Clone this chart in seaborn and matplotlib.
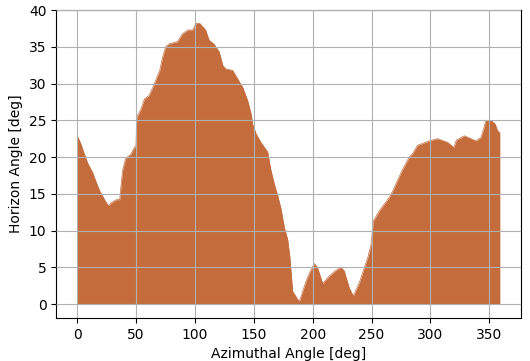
import pandas as pd
import matplotlib
matplotlib.use("Agg")
import matplotlib.pyplot as plt
import seaborn as sns

azimuth = [0, 3, 6, 9, 13, 16, 19, 21.5, 24.5, 26.5, 29, 33, 36, 37, 38.5, 41,
           45.5, 48.5, 49.8, 50.5, 54, 57, 61, 65, 70, 72.5, 75, 78, 85, 89.5,
           94, 98, 101, 104, 109, 112, 116, 120.6, 123.5, 126, 132, 136, 140.5,
           144.7, 147.6, 149, 151.8, 156, 161.7, 164.5, 167.4, 170.2, 173,
           175.9, 178.7, 180.5, 181.5, 183, 188.6, 191, 194.3, 198, 201.4, 204,
           208.4, 214, 219.8, 224, 226.8, 231, 234.5, 239.6, 246.7, 249.5,
           251.5, 256.6, 265, 268, 276, 282, 285, 289, 299, 306, 314.6, 320,
           322, 328.8, 338.7, 343, 345.5, 347, 351.4, 355, 357, 359]
horizon = [22.9, 21.8, 20.4, 19.1, 17.9, 16.6, 15.4, 14.7, 13.8, 13.4, 13.8,
           14.2, 14.2, 15.9, 18.2, 19.8, 20.4, 21.3, 21.5, 25.4, 26.5, 27.9,
           28.4, 29.8, 31.8, 33.6, 35.0, 35.4, 35.7, 36.8, 37.3, 37.3, 38.2,
           38.2, 37.3, 35.9, 35.4, 34.3, 32.5, 32.0, 31.8, 30.7, 29.5, 27.7,
           25.9, 24.5, 23.2, 22.0, 20.7, 18.2, 16.3, 14.8, 13.0, 10.4, 8.8,
           6.5, 4.5, 1.7, 0.3, 1.5, 3.1, 4.5, 5.5, 5.0, 2.8, 3.8, 4.6, 5.0,
           4.5, 2.2, 1.1, 2.9, 6.3, 8.0, 11.3, 12.7, 14.5, 15.4, 18.2, 20.0,
           20.5, 21.6, 22.2, 22.5, 22.0, 21.3, 22.3, 22.9, 22.2, 22.7, 24.0,
           25.0, 25.0, 24.5, 23.6, 23.3]

df = pd.DataFrame({"azimuth": azimuth, "horizon": horizon})
color = "#c46c3c"

fig, ax = plt.subplots(figsize=(5.3, 3.61), dpi=100)
fig.subplots_adjust(left=0.106, right=0.983, top=0.972, bottom=0.119)

sns.lineplot(data=df, x="azimuth", y="horizon", color=color, linewidth=0.5, ax=ax)
ax.fill_between(df["azimuth"], 0, df["horizon"], color=color, linewidth=0)

ax.set_ylim(top=40)
ax.set_xticks(range(0, 351, 50))
ax.set_yticks(range(0, 41, 5))
ax.grid(True, color="#b0b0b0", linewidth=0.8)
ax.set_axisbelow(False)
ax.set_xlabel("Azimuthal Angle [deg]")
ax.set_ylabel("Horizon Angle [deg]")

fig.savefig("out.png")
